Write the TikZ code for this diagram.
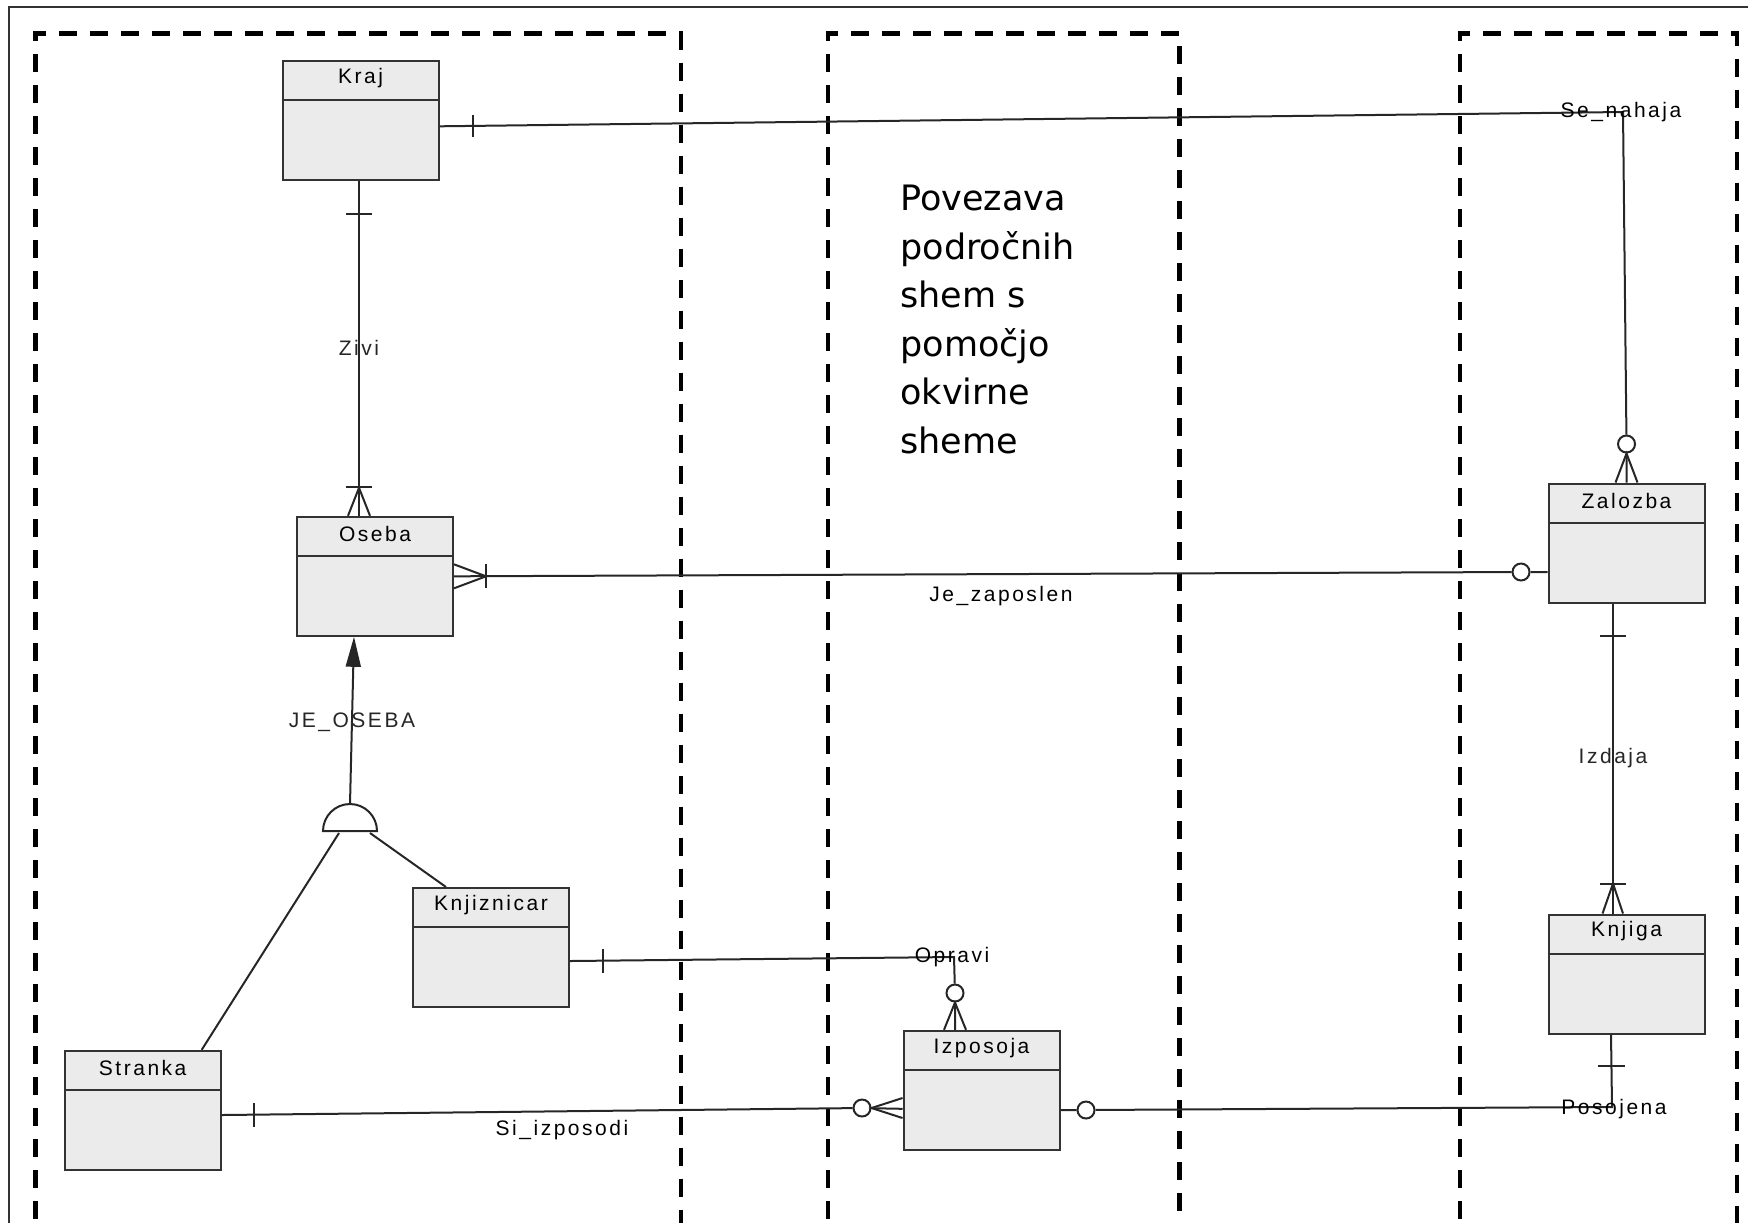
\documentclass[tikz,border=0pt]{standalone}
\usepackage{fontspec}
\setmainfont{Liberation Sans}
\newfontfamily\erfont[LetterSpace=12]{Liberation Sans}
\newfontfamily\notefont{DejaVu Sans}
\usetikzlibrary{arrows.meta,positioning,calc}

\begin{document}
\begin{tikzpicture}[x=0.5pt, y=-0.5pt, >=Stealth,
  ent/.style={draw=black!80, line width=1pt, fill=black!8,
    minimum width=78pt, minimum height=59.5pt, inner sep=0pt},
  ename/.style={font=\erfont\fontsize{10.5}{12}\selectfont, inner sep=0pt},
  lbl/.style={font=\erfont\fontsize{10.5}{12}\selectfont, inner sep=0pt},
  rel/.style={line width=1pt, black!85},
  opt/.style={draw=black!85, line width=1pt, circle, minimum size=8.5pt,
    inner sep=0pt, fill=white},
  frame/.style={line width=2.3pt, dash pattern=on 9pt off 6.5pt},
  note/.style={font=\notefont\fontsize{17.5}{24.25}\selectfont, align=left,
    inner sep=0pt}]
\useasboundingbox (0,0) rectangle (1748,1222);
% outer border and dashed schema frames
\draw[line width=1pt, black!80] (9,1230) -- (9,7) -- (1760,7);
\foreach \l/\r in {35.7/681, 828/1179.5, 1460/1737}
  \draw[frame] (\l,1250) -- (\l,33.4) -- (\r,33.4) -- (\r,1250);
% entities
\foreach \n/\x/\y/\t in {kraj/360.5/120.3/Kraj, oseba/375/576.3/Oseba,
    knjiz/491/947.5/Knjiznicar, stranka/142.7/1110.3/Stranka,
    izp/981.5/1090.3/Izposoja, zalozba/1626.5/543/Zalozba,
    knjiga/1626.5/974/Knjiga}{
  \node[ent] (\n) at (\x,\y) {};
  \draw[line width=1pt, black!80] ($(\n.north west)+(0,40)$) -- ($(\n.north east)+(0,40)$);
  \node[ename] (\n-name) at ($(\n.north)+(0,18)$) {\t};
}
\node[note, anchor=north west] (note) at (900,185)
  {Povezava\\področnih\\shem s\\pomočjo\\okvirne\\sheme};
% optional ends
\node[opt] (o-zal) at (1626.5,444) {};
\node[opt] (o-zap) at (1521,572) {};
\node[opt] (o-izp-top) at (955,993) {};
\node[opt] (o-izp-left) at (862,1108) {};
\node[opt] (o-izp-right) at (1086,1110) {};
\coordinate (senahaja) at (1623,112);
\coordinate (opravi) at (954,957);
\coordinate (posojena) at (1612,1107);
% Se_nahaja
\draw[rel] ($(kraj.east)+(0,6)$) -- (senahaja) -- (o-zal) -- (zalozba.north);
\draw[rel] ($(kraj.east)+(33,-5)$) -- ++(0,22);
\draw[rel] ($(zalozba.north)+(-11,0)$) -- (o-zal.south) -- ($(zalozba.north)+(11,0)$);
\node[lbl] (l-senahaja) at ($(senahaja)+(-2,0)$) {Se\_nahaja};
% Zivi
\draw[rel] ($(kraj.south)+(-1.5,0)$) -- node[lbl] (l-zivi) {Zivi} ($(oseba.north)+(-16,0)$);
\draw[rel] ($(kraj.south)+(-14.5,33)$) -- ++(26,0);
\draw[rel] ($(oseba.north)+(-27,0)$) -- ($(oseba.north)+(-16,-28)$) -- ($(oseba.north)+(-5,0)$);
\draw[rel] ($(oseba.north)+(-29,-29)$) -- ++(26,0);
% Je_zaposlen
\draw[rel] (oseba.east) -- (o-zap) -- ($(zalozba.west)+(0,29)$);
\draw[rel] ($(oseba.east)+(0,-12)$) -- ($(oseba.east)+(32,0)$) -- ($(oseba.east)+(0,12)$);
\draw[rel] ($(oseba.east)+(32,-12)$) -- ++(0,24);
\node[lbl] (l-zaposlen) at (1001,596) {Je\_zaposlen};
% JE_OSEBA
\coordinate (isa) at (350,831);
\draw[rel] ($(isa)+(-27,0)$) arc[start angle=180, end angle=0, radius=13.5pt] -- cycle;
\draw[rel, -{Triangle[length=15pt, width=7.5pt]}] ($(isa)+(0,-27)$)
  -- node[lbl, pos=0.49] (l-jeoseba) {JE\_OSEBA} ($(oseba.south)+(-21,0)$);
\draw[rel] ($(isa)+(-11,2)$) -- ($(stranka.north)+(59,0)$);
\draw[rel] ($(isa)+(20,2)$) -- ($(knjiz.north)+(-45,0)$);
% Opravi
\draw[rel] ($(knjiz.east)+(0,13.5)$) -- (opravi) -- (o-izp-top) -- ($(izp.north)+(-26.5,0)$);
\draw[rel] ($(knjiz.east)+(32.5,1.5)$) -- ++(0,24);
\draw[rel] ($(izp.north)+(-37.5,0)$) -- (o-izp-top.south) -- ($(izp.north)+(-15.5,0)$);
\node[lbl] (l-opravi) at ($(opravi)+(-2,0.5)$) {Opravi};
% Si_izposodi
\draw[rel] ($(stranka.east)+(0,4.7)$) -- (o-izp-left) -- ($(izp.west)+(0,18.5)$);
\draw[rel] ($(izp.west)+(0,7.7)$) -- (o-izp-left.east) -- ($(izp.west)+(0,27.7)$);
\draw[rel] ($(stranka.east)+(32,-7)$) -- ++(0,24);
\node[lbl] (l-izposodi) at (562,1130) {Si\_izposodi};
% Posojena
\draw[rel] ($(izp.east)+(0,19.7)$) -- (o-izp-right) -- (posojena) -- ($(knjiga.south)+(-15.5,0)$);
\draw[rel] ($(knjiga.south)+(-29,31)$) -- ++(27,0);
\node[lbl] (l-posojena) at ($(posojena)+(2,2.5)$) {Posojena};
% Izdaja
\draw[rel] ($(zalozba.south)+(-13.5,0)$) -- node[lbl] (l-izdaja) {Izdaja} ($(knjiga.north)+(-13.5,0)$);
\draw[rel] ($(zalozba.south)+(-26.5,32.5)$) -- ++(26,0);
\draw[rel] ($(knjiga.north)+(-24,0)$) -- ($(knjiga.north)+(-13.5,-30)$) -- ($(knjiga.north)+(-3.5,0)$);
\draw[rel] ($(knjiga.north)+(-26.5,-30)$) -- ++(26,0);
\end{tikzpicture}
\end{document}
